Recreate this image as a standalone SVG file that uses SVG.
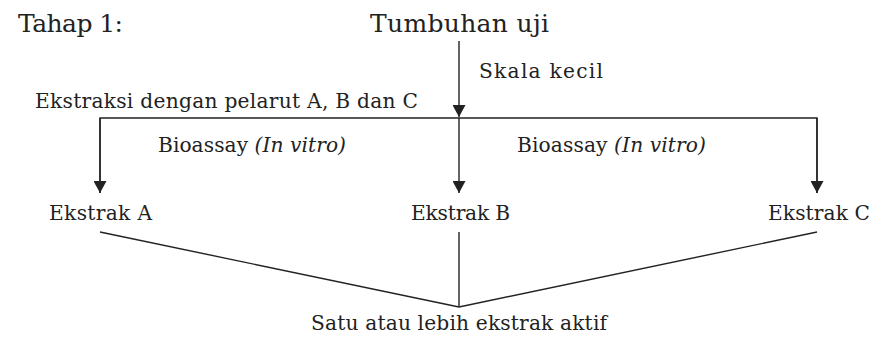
<svg xmlns="http://www.w3.org/2000/svg" width="874" height="341" viewBox="0 0 874 341">
  <style>
    .t { font-family: "DejaVu Serif", "Liberation Serif", serif; fill: #222; }
    .big { font-size: 25px; }
    .sm { font-size: 20.2px; }
    .ln { stroke: #222; stroke-width: 1.4; fill: none; }
  </style>
  <defs>
    <marker id="arr" viewBox="0 0 12 13" refX="12" refY="6.5" markerWidth="12" markerHeight="13" markerUnits="userSpaceOnUse" orient="auto">
      <path d="M0,0 L12,6.5 L0,13 Z" fill="#222"/>
    </marker>
  </defs>
  <rect width="874" height="341" fill="#fff"/>

  <g id="stage-label"><text class="t big" x="18" y="32" textLength="105">Tahap 1:</text></g>
  <g id="plant"><text class="t big" x="370" y="32" textLength="179">Tumbuhan uji</text></g>
  <g id="scale-label"><text class="t sm" x="479" y="78" textLength="124">Skala kecil</text></g>
  <g id="extraction-label"><text class="t sm" x="35" y="108" textLength="383">Ekstraksi dengan pelarut A, B dan C</text></g>
  <g id="bioassay-left"><text class="t sm" x="158" y="152" textLength="188">Bioassay <tspan font-style="italic">(In vitro)</tspan></text></g>
  <g id="bioassay-right"><text class="t sm" x="517" y="152" textLength="189">Bioassay <tspan font-style="italic">(In vitro)</tspan></text></g>
  <g id="extract-a"><text class="t sm" x="49" y="220" textLength="103">Ekstrak A</text></g>
  <g id="extract-b"><text class="t sm" x="411" y="220" textLength="99">Ekstrak B</text></g>
  <g id="extract-c"><text class="t sm" x="768" y="220" textLength="102">Ekstrak C</text></g>
  <g id="active"><text class="t sm" x="311" y="330" textLength="296">Satu atau lebih ekstrak aktif</text></g>

  <g id="connectors">
    <line class="ln" x1="459" y1="41" x2="459" y2="117" marker-end="url(#arr)"/>
    <polyline class="ln" points="100,193 100,118 817,118 817,193"/>
    <line class="ln" x1="100" y1="118" x2="100" y2="193" marker-end="url(#arr)"/>
    <line class="ln" x1="817" y1="118" x2="817" y2="193" marker-end="url(#arr)"/>
    <line class="ln" x1="459" y1="118" x2="459" y2="193" marker-end="url(#arr)"/>
    <line class="ln" x1="100" y1="232" x2="459" y2="307"/>
    <line class="ln" x1="459" y1="232" x2="459" y2="307"/>
    <line class="ln" x1="817" y1="232" x2="459" y2="307"/>
  </g>
</svg>
